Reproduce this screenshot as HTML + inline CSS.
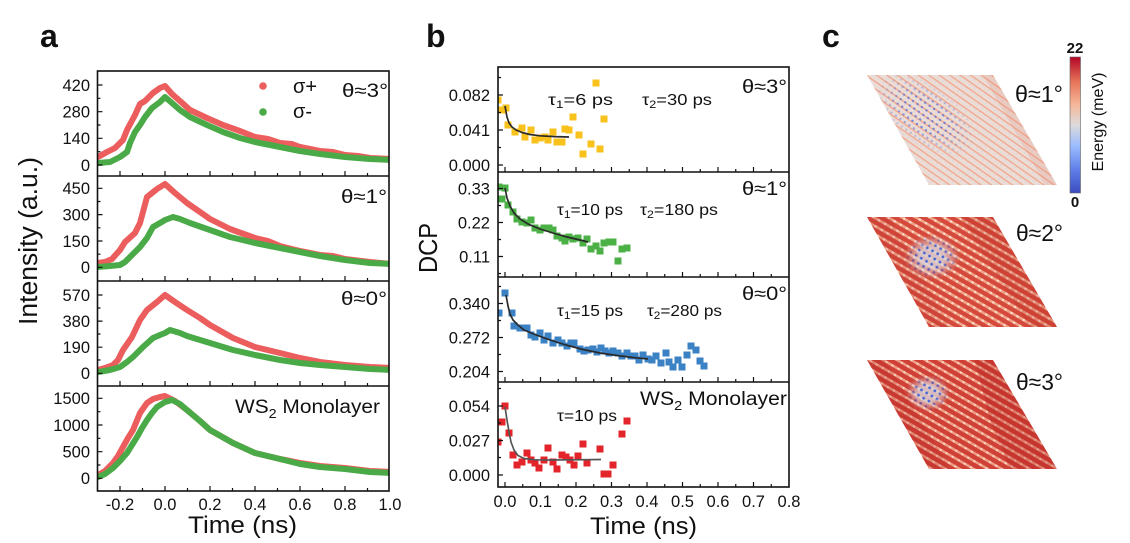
<!DOCTYPE html>
<html><head><meta charset="utf-8"><style>
html,body{margin:0;padding:0;background:#fff}
svg{display:block}
text{font-family:"Liberation Sans",Arial,sans-serif;fill:#111}
</style></head><body>
<svg width="1130" height="543" viewBox="0 0 1130 543" xmlns="http://www.w3.org/2000/svg">
<defs>
<rect id="s" x="-3.5" y="-3.5" width="7" height="7"/>
<clipPath id="ca"><rect x="97.5" y="71" width="291.5" height="420"/></clipPath>
<clipPath id="cb"><rect x="498" y="67" width="291" height="420"/></clipPath>
<clipPath id="cr1"><polygon points="867,75 993,75 1057,185 929,185"/></clipPath>
<clipPath id="cr2"><polygon points="867,217 993,217 1057,327 929,327"/></clipPath>
<clipPath id="cr3"><polygon points="867,360 993,360 1057,469 929,469"/></clipPath>
<pattern id="pL" patternUnits="userSpaceOnUse" width="6" height="6" patternTransform="rotate(35)">
<rect width="6" height="6" fill="#ecdcd6"/>
<rect y="2.2" width="6" height="1.3" fill="#f0a58c"/>
<circle cx="3" cy="5" r="0.7" fill="#d3d5e2"/>
</pattern>
<pattern id="bd" patternUnits="userSpaceOnUse" width="5.5" height="5.5" patternTransform="rotate(35)">
<circle cx="2.75" cy="4.6" r="1.2" fill="#4a6ad8"/>
</pattern>
<pattern id="bd2" patternUnits="userSpaceOnUse" width="6" height="6" patternTransform="rotate(30)">
<rect width="6" height="6" fill="#dcd3d6" opacity="0.85"/>
<circle cx="3" cy="3" r="1.4" fill="#4464d6"/>
</pattern>
<pattern id="pR" patternUnits="userSpaceOnUse" width="7" height="7" patternTransform="rotate(30)">
<rect width="7" height="7" fill="#d4493c"/>
<rect y="2" width="7" height="2.6" fill="#f0a387"/>
<circle cx="3.5" cy="3.3" r="1.3" fill="#fbdcc8"/>
</pattern>
<pattern id="pR3" patternUnits="userSpaceOnUse" width="7" height="7" patternTransform="rotate(30)">
<rect width="7" height="7" fill="#cf4036"/>
<rect y="2" width="7" height="2.5" fill="#ee9e84"/>
<circle cx="3.5" cy="3.3" r="1.2" fill="#f9d6c3"/>
</pattern>
<radialGradient id="rw"><stop offset="0" stop-color="#fff"/><stop offset="0.45" stop-color="#fff"/><stop offset="1" stop-color="#000"/></radialGradient>
<mask id="m1" maskUnits="userSpaceOnUse" x="860" y="70" width="200" height="120"><ellipse cx="925" cy="115" rx="58" ry="30" transform="rotate(35 925 115)" fill="url(#rw)"/></mask>
<mask id="m2" maskUnits="userSpaceOnUse" x="860" y="210" width="200" height="125"><ellipse cx="932" cy="257" rx="28" ry="22" fill="url(#rw)"/></mask>
<mask id="m3" maskUnits="userSpaceOnUse" x="860" y="355" width="200" height="120"><ellipse cx="928" cy="393" rx="22" ry="18" fill="url(#rw)"/></mask>
<linearGradient id="cbar" x1="0" y1="1" x2="0" y2="0">
<stop offset="0" stop-color="#3b4cc0"/><stop offset="0.18" stop-color="#6282ea"/><stop offset="0.35" stop-color="#9dbdff"/>
<stop offset="0.5" stop-color="#dcdbdb"/><stop offset="0.65" stop-color="#f6b79a"/><stop offset="0.82" stop-color="#e57358"/><stop offset="1" stop-color="#b40426"/>
</linearGradient>
</defs>

<!-- panel labels -->
<text x="40" y="47" font-size="32" font-weight="bold">a</text>
<text x="426" y="47" font-size="32" font-weight="bold">b</text>
<text x="822" y="47" font-size="32" font-weight="bold">c</text>

<!-- ============ PANEL A ============ -->
<g clip-path="url(#ca)" fill="none" stroke-width="6" stroke-linejoin="round" stroke-linecap="round">
<g stroke="#ec5d5d">
<polyline points="98,157 107,152 115,148 123,140 127,130 135,115 140,104 145,101 153,93 160,88 165,86 172,94 180,101 190,110 207,118 223,125 240,131 255,137 268,139 280,143 292,144 300,147 320,151 333,152 345,155 358,156 370,158 392,159"/>
<polyline points="98,263 105,262 112,259 120,250 125,242 135,233 140,223 147,197 152,193 157,189 165,184 175,193 187,203 200,212 210,219 230,229 255,238 268,241 280,246 300,251 320,255 333,256 345,259 370,262 392,264"/>
<polyline points="98,370 105,368 113,365 118,360 123,350 132,337 140,320 147,310 157,302 165,295 175,302 187,310 200,318 210,325 233,338 255,347 280,353 300,358 320,362 345,365 370,367 392,368"/>
<polyline points="98,475 105,471 113,463 118,456 123,447 128,438 133,430 140,413 147,403 153,399 160,397 165,396 175,401 187,410 200,421 210,430 233,443 255,453 280,459 300,463 320,466 345,468 370,471 392,472"/>
</g>
<g stroke="#4aaa47">
<polyline points="98,163 110,162 120,157 127,152 130,143 135,132 140,125 145,117 152,108 160,102 165,97 172,103 180,110 190,117 207,125 223,132 240,138 255,142 280,147 300,151 320,154 345,157 370,159 392,160"/>
<polyline points="98,267 110,266 120,265 125,262 130,257 140,247 147,238 153,227 160,223 165,220 173,217 180,219 190,223 210,230 230,237 255,243 280,248 300,252 320,256 345,260 370,263 392,264"/>
<polyline points="98,372 110,370 120,367 127,362 133,357 143,347 153,338 160,335 165,333 170,330 180,333 187,336 210,343 233,350 255,355 280,360 300,363 320,365 345,367 370,369 392,370"/>
<polyline points="98,477 105,474 113,468 120,461 127,453 132,445 137,437 142,428 147,420 152,413 157,407 165,402 172,400 180,404 187,410 200,421 210,430 233,443 255,453 280,459 300,464 320,467 345,469 370,472 392,473"/>
</g>
</g>
<!-- legend -->
<circle cx="263" cy="86" r="3.8" fill="#ec5d5d"/>
<circle cx="263" cy="112" r="3.8" fill="#4aaa47"/>
<text x="293" y="93" font-size="20">σ+</text>
<text x="293" y="118" font-size="20">σ-</text>
<!-- annotations -->
<text x="342" y="97" font-size="19" textLength="46" lengthAdjust="spacingAndGlyphs">θ≈3°</text>
<text x="341" y="203" font-size="19" textLength="46" lengthAdjust="spacingAndGlyphs">θ≈1°</text>
<text x="341" y="305" font-size="19" textLength="46" lengthAdjust="spacingAndGlyphs">θ≈0°</text>
<text x="235" y="413" font-size="19" textLength="145" lengthAdjust="spacingAndGlyphs">WS<tspan font-size="13" dy="5">2</tspan><tspan dy="-5"> Monolayer</tspan></text>
<!-- frame -->
<g fill="none" stroke="#111" stroke-width="1.6">
<rect x="97.5" y="71" width="291.5" height="420"/>
<path d="M97.5 176H389M97.5 281H389M97.5 386H389"/>
<path stroke-width="1.2" d="M120 176v-5M165 176v-5M210 176v-5M255 176v-5M300 176v-5M345 176v-5M142.5 176v-3M187.5 176v-3M232.5 176v-3M277.5 176v-3M322.5 176v-3M367.5 176v-3
M120 281v-5M165 281v-5M210 281v-5M255 281v-5M300 281v-5M345 281v-5M142.5 281v-3M187.5 281v-3M232.5 281v-3M277.5 281v-3M322.5 281v-3M367.5 281v-3
M120 386v-5M165 386v-5M210 386v-5M255 386v-5M300 386v-5M345 386v-5M142.5 386v-3M187.5 386v-3M232.5 386v-3M277.5 386v-3M322.5 386v-3M367.5 386v-3
M120 491v-5M165 491v-5M210 491v-5M255 491v-5M300 491v-5M345 491v-5M142.5 491v-3M187.5 491v-3M232.5 491v-3M277.5 491v-3M322.5 491v-3M367.5 491v-3
M97.5 85h5M97.5 111.7h5M97.5 138.3h5M97.5 165h5M97.5 98.3h3M97.5 125h3M97.5 151.7h3
M97.5 188.3h5M97.5 214.6h5M97.5 241h5M97.5 267.3h5M97.5 201.5h3M97.5 227.8h3M97.5 254.2h3
M97.5 295h5M97.5 321.1h5M97.5 347.2h5M97.5 373.3h5M97.5 308h3M97.5 334h3M97.5 360h3
M97.5 398.3h5M97.5 425h5M97.5 451.7h5M97.5 478.3h5M97.5 411.7h3M97.5 438.3h3M97.5 465h3"/>
</g>
<!-- y tick labels a -->
<g font-size="16.5" text-anchor="end">
<text x="90" y="90.8">420</text><text x="90" y="117.5">280</text><text x="90" y="144.1">140</text><text x="90" y="170.8">0</text>
<text x="90" y="194.1">450</text><text x="90" y="220.4">300</text><text x="90" y="246.8">150</text><text x="90" y="273.1">0</text>
<text x="90" y="300.8">570</text><text x="90" y="326.9">380</text><text x="90" y="353">190</text><text x="90" y="379.1">0</text>
<text x="90" y="404.1">1500</text><text x="90" y="430.8">1000</text><text x="90" y="457.5">500</text><text x="90" y="484.1">0</text>
</g>
<g font-size="16.5" text-anchor="middle">
<text x="120" y="510">-0.2</text><text x="165" y="510">0.0</text><text x="210" y="510">0.2</text><text x="255" y="510">0.4</text>
<text x="300" y="510">0.6</text><text x="345" y="510">0.8</text><text x="390" y="510">1.0</text>
</g>
<text x="242.5" y="533" font-size="24" text-anchor="middle" textLength="109" lengthAdjust="spacingAndGlyphs">Time (ns)</text>
<text transform="translate(37,241) rotate(-90)" font-size="25.5" text-anchor="middle" textLength="168" lengthAdjust="spacingAndGlyphs">Intensity (a.u.)</text>

<!-- ============ PANEL B ============ -->
<g clip-path="url(#cb)">
<g fill="#f8c11c">
<use href="#s" x="498" y="100"/><use href="#s" x="502" y="110"/><use href="#s" x="506" y="108"/><use href="#s" x="508" y="125"/><use href="#s" x="515" y="132"/><use href="#s" x="522" y="128"/><use href="#s" x="525" y="137"/><use href="#s" x="531" y="130"/><use href="#s" x="535" y="140"/><use href="#s" x="540" y="138"/><use href="#s" x="545" y="137"/><use href="#s" x="548" y="140"/><use href="#s" x="553" y="132"/><use href="#s" x="557" y="142"/><use href="#s" x="562" y="142"/><use href="#s" x="565" y="129"/><use href="#s" x="569" y="130"/><use href="#s" x="573" y="117"/><use href="#s" x="579" y="135"/><use href="#s" x="583" y="154"/><use href="#s" x="591" y="144"/><use href="#s" x="596" y="83"/><use href="#s" x="600" y="149"/><use href="#s" x="604" y="119"/>
</g>
<g fill="#4bb045">
<use href="#s" x="499" y="187"/><use href="#s" x="502" y="199"/><use href="#s" x="505" y="188"/><use href="#s" x="508" y="205"/><use href="#s" x="513" y="212"/><use href="#s" x="517" y="219"/><use href="#s" x="522" y="222"/><use href="#s" x="527" y="223"/><use href="#s" x="531" y="220"/><use href="#s" x="535" y="228"/><use href="#s" x="540" y="230"/><use href="#s" x="544" y="228"/><use href="#s" x="549" y="228"/><use href="#s" x="553" y="230"/><use href="#s" x="557" y="236"/><use href="#s" x="562" y="238"/><use href="#s" x="565" y="241"/><use href="#s" x="569" y="237"/><use href="#s" x="573" y="239"/><use href="#s" x="578" y="238"/><use href="#s" x="583" y="243"/><use href="#s" x="587" y="239"/><use href="#s" x="591" y="249"/><use href="#s" x="596" y="246"/><use href="#s" x="600" y="251"/><use href="#s" x="604" y="243"/><use href="#s" x="609" y="242"/><use href="#s" x="613" y="242"/><use href="#s" x="618" y="261"/><use href="#s" x="622" y="249"/><use href="#s" x="627" y="248"/>
</g>
<g fill="#3b82c4">
<use href="#s" x="499" y="313"/><use href="#s" x="505" y="293"/><use href="#s" x="512" y="313"/><use href="#s" x="514" y="326"/><use href="#s" x="520" y="328"/><use href="#s" x="527" y="328"/><use href="#s" x="531" y="335"/><use href="#s" x="535" y="337"/><use href="#s" x="540" y="333"/><use href="#s" x="544" y="340"/><use href="#s" x="548" y="336"/><use href="#s" x="553" y="343"/><use href="#s" x="558" y="340"/><use href="#s" x="562" y="343"/><use href="#s" x="567" y="346"/><use href="#s" x="571" y="343"/><use href="#s" x="574" y="343"/><use href="#s" x="580" y="349"/><use href="#s" x="584" y="351"/><use href="#s" x="588" y="350"/><use href="#s" x="593" y="349"/><use href="#s" x="597" y="352"/><use href="#s" x="601" y="348"/><use href="#s" x="605" y="351"/><use href="#s" x="609" y="353"/><use href="#s" x="613" y="351"/><use href="#s" x="618" y="353"/><use href="#s" x="622" y="356"/><use href="#s" x="627" y="353"/><use href="#s" x="631" y="356"/><use href="#s" x="635" y="356"/><use href="#s" x="639" y="360"/><use href="#s" x="643" y="355"/><use href="#s" x="648" y="359"/><use href="#s" x="652" y="360"/><use href="#s" x="656" y="356"/><use href="#s" x="661" y="363"/><use href="#s" x="666" y="353"/><use href="#s" x="669" y="362"/><use href="#s" x="673" y="367"/><use href="#s" x="678" y="360"/><use href="#s" x="682" y="367"/><use href="#s" x="687" y="355"/><use href="#s" x="691" y="346"/><use href="#s" x="696" y="350"/><use href="#s" x="700" y="361"/><use href="#s" x="704" y="366"/>
</g>
<g fill="#e3242b">
<use href="#s" x="498" y="442"/><use href="#s" x="502" y="422"/><use href="#s" x="505" y="406"/><use href="#s" x="509" y="433"/><use href="#s" x="513" y="455"/><use href="#s" x="517" y="465"/><use href="#s" x="522" y="462"/><use href="#s" x="527" y="453"/><use href="#s" x="531" y="460"/><use href="#s" x="535" y="463"/><use href="#s" x="539" y="468"/><use href="#s" x="544" y="460"/><use href="#s" x="548" y="448"/><use href="#s" x="553" y="462"/><use href="#s" x="557" y="469"/><use href="#s" x="562" y="455"/><use href="#s" x="566" y="457"/><use href="#s" x="570" y="460"/><use href="#s" x="574" y="465"/><use href="#s" x="578" y="456"/><use href="#s" x="583" y="444"/><use href="#s" x="587" y="463"/><use href="#s" x="600" y="449"/><use href="#s" x="604" y="474"/><use href="#s" x="608" y="474"/><use href="#s" x="613" y="465"/><use href="#s" x="622" y="434"/><use href="#s" x="627" y="421"/>
</g>
<g fill="none" stroke-width="1.7" stroke-linejoin="round">
<polyline stroke="#2a2a2a" points="505,106 507,117 509,123 512,127 516,130 522,132.5 530,134.5 540,135.8 555,136.6 569,137"/>
<polyline stroke="#2a2a2a" points="505,188 507,198 510,206 514,213 520,219 528,224 540,229 553,233 567,237 580,240 588,242"/>
<polyline stroke="#2a2a2a" points="506,295 508,306 510,314 513,320 518,325 524,330 535,334.5 550,340 566,345 583,349.5 600,353 617,355.5 633,357.5 648,359"/>
<polyline stroke="#555" points="505,407 507,420 509,432 511,442 514,450 518,455.5 524,458.5 535,459.8 550,460 575,459.8 601,459.5"/>
</g>
</g>
<!-- annotations b -->
<g font-size="16">
<text x="548" y="105" textLength="65" lengthAdjust="spacingAndGlyphs">τ<tspan font-size="11" dy="3">1</tspan><tspan dy="-3">=6 ps</tspan></text>
<text x="642" y="105" textLength="70" lengthAdjust="spacingAndGlyphs">τ<tspan font-size="11" dy="3">2</tspan><tspan dy="-3">=30 ps</tspan></text>
<text x="557" y="215" textLength="66" lengthAdjust="spacingAndGlyphs">τ<tspan font-size="11" dy="3">1</tspan><tspan dy="-3">=10 ps</tspan></text>
<text x="640" y="215" textLength="78" lengthAdjust="spacingAndGlyphs">τ<tspan font-size="11" dy="3">2</tspan><tspan dy="-3">=180 ps</tspan></text>
<text x="557" y="316" textLength="66" lengthAdjust="spacingAndGlyphs">τ<tspan font-size="11" dy="3">1</tspan><tspan dy="-3">=15 ps</tspan></text>
<text x="647" y="316" textLength="75" lengthAdjust="spacingAndGlyphs">τ<tspan font-size="11" dy="3">2</tspan><tspan dy="-3">=280 ps</tspan></text>
<text x="557" y="421" textLength="60" lengthAdjust="spacingAndGlyphs">τ=10 ps</text>
</g>
<text x="742" y="93" font-size="19" textLength="45" lengthAdjust="spacingAndGlyphs">θ≈3°</text>
<text x="742" y="195" font-size="19" textLength="45" lengthAdjust="spacingAndGlyphs">θ≈1°</text>
<text x="742" y="300" font-size="19" textLength="45" lengthAdjust="spacingAndGlyphs">θ≈0°</text>
<text x="640" y="405" font-size="19" textLength="147" lengthAdjust="spacingAndGlyphs">WS<tspan font-size="13" dy="5">2</tspan><tspan dy="-5"> Monolayer</tspan></text>
<!-- frame b -->
<g fill="none" stroke="#111" stroke-width="1.6">
<rect x="498" y="67" width="291" height="420"/>
<path d="M498 172H789M498 277H789M498 382H789"/>
<path stroke-width="1.2" d="M505 172v-5M540.5 172v-5M576 172v-5M611.5 172v-5M647 172v-5M682.5 172v-5M718 172v-5M753.5 172v-5M522.75 172v-3M558.25 172v-3M593.75 172v-3M629.25 172v-3M664.75 172v-3M700.25 172v-3M735.75 172v-3M771.25 172v-3
M505 277v-5M540.5 277v-5M576 277v-5M611.5 277v-5M647 277v-5M682.5 277v-5M718 277v-5M753.5 277v-5M522.75 277v-3M558.25 277v-3M593.75 277v-3M629.25 277v-3M664.75 277v-3M700.25 277v-3M735.75 277v-3M771.25 277v-3
M505 382v-5M540.5 382v-5M576 382v-5M611.5 382v-5M647 382v-5M682.5 382v-5M718 382v-5M753.5 382v-5M522.75 382v-3M558.25 382v-3M593.75 382v-3M629.25 382v-3M664.75 382v-3M700.25 382v-3M735.75 382v-3M771.25 382v-3
M505 487v-5M540.5 487v-5M576 487v-5M611.5 487v-5M647 487v-5M682.5 487v-5M718 487v-5M753.5 487v-5M522.75 487v-3M558.25 487v-3M593.75 487v-3M629.25 487v-3M664.75 487v-3M700.25 487v-3M735.75 487v-3M771.25 487v-3
M498 95h5M498 130h5M498 165h5M498 77.5h3M498 112.5h3M498 147.5h3
M498 188.5h5M498 222.5h5M498 256.5h5M498 205.5h3M498 239.5h3M498 273.5h3
M498 303.5h5M498 337.5h5M498 371.5h5M498 286.5h3M498 320.5h3M498 354.5h3
M498 406h5M498 440.5h5M498 475h5M498 388.5h3M498 423h3M498 457.5h3"/>
</g>
<g font-size="16.5" text-anchor="end">
<text x="490" y="100.8">0.082</text><text x="490" y="135.8">0.041</text><text x="490" y="170.8">0.000</text>
<text x="490" y="194.3">0.33</text><text x="490" y="228.3">0.22</text><text x="490" y="262.3">0.11</text>
<text x="490" y="309.3">0.340</text><text x="490" y="343.3">0.272</text><text x="490" y="377.3">0.204</text>
<text x="490" y="411.8">0.054</text><text x="490" y="446.3">0.027</text><text x="490" y="480.8">0.000</text>
</g>
<g font-size="16.5" text-anchor="middle">
<text x="505" y="507">0.0</text><text x="540.5" y="507">0.1</text><text x="576" y="507">0.2</text><text x="611.5" y="507">0.3</text>
<text x="647" y="507">0.4</text><text x="682.5" y="507">0.5</text><text x="718" y="507">0.6</text><text x="753.5" y="507">0.7</text><text x="789" y="507">0.8</text>
</g>
<text x="643.5" y="534" font-size="24" text-anchor="middle" textLength="107" lengthAdjust="spacingAndGlyphs">Time (ns)</text>
<text transform="translate(437,248) rotate(-90)" font-size="26" text-anchor="middle" textLength="50" lengthAdjust="spacingAndGlyphs">DCP</text>

<!-- ============ PANEL C ============ -->
<g clip-path="url(#cr1)">
<rect x="860" y="70" width="200" height="120" fill="url(#pL)"/>
<rect x="860" y="70" width="200" height="120" fill="url(#bd)" mask="url(#m1)" opacity="0.75"/>
<polygon points="993,75 1057,185 1045,185 983,75" fill="#e8866c" opacity="0.2"/>
</g>
<g clip-path="url(#cr2)">
<rect x="860" y="210" width="200" height="125" fill="url(#pR)"/>
<polygon points="960,217 1010,217 1057,300 1057,327 1030,327" fill="#b82820" opacity="0.22"/>
<polygon points="867,217 890,217 950,327 929,327" fill="#b82820" opacity="0.15"/>
<rect x="860" y="210" width="200" height="125" fill="url(#bd2)" mask="url(#m2)"/>
</g>
<g clip-path="url(#cr3)">
<rect x="860" y="355" width="200" height="120" fill="url(#pR3)"/>
<polygon points="975,360 1000,360 1040,440 1057,469 1010,469 990,420" fill="#b01c1c" opacity="0.28"/>
<polygon points="867,360 885,360 950,469 929,469" fill="#b01c1c" opacity="0.2"/>
<rect x="860" y="355" width="200" height="120" fill="url(#bd2)" mask="url(#m3)"/>
</g>
<text x="1015" y="102" font-size="23" textLength="48" lengthAdjust="spacingAndGlyphs">θ≈1°</text>
<text x="1016" y="241" font-size="23" textLength="47" lengthAdjust="spacingAndGlyphs">θ≈2°</text>
<text x="1016" y="390" font-size="23" textLength="47" lengthAdjust="spacingAndGlyphs">θ≈3°</text>
<!-- colorbar -->
<rect x="1070" y="57" width="10.5" height="136" fill="url(#cbar)" stroke="#666" stroke-width="0.6"/>
<text x="1075" y="53" font-size="15" font-weight="bold" text-anchor="middle">22</text>
<text x="1075" y="207" font-size="15" font-weight="bold" text-anchor="middle">0</text>
<text transform="translate(1103,122) rotate(-90)" font-size="16" text-anchor="middle" textLength="99" lengthAdjust="spacingAndGlyphs">Energy (meV)</text>
</svg>
</body></html>
